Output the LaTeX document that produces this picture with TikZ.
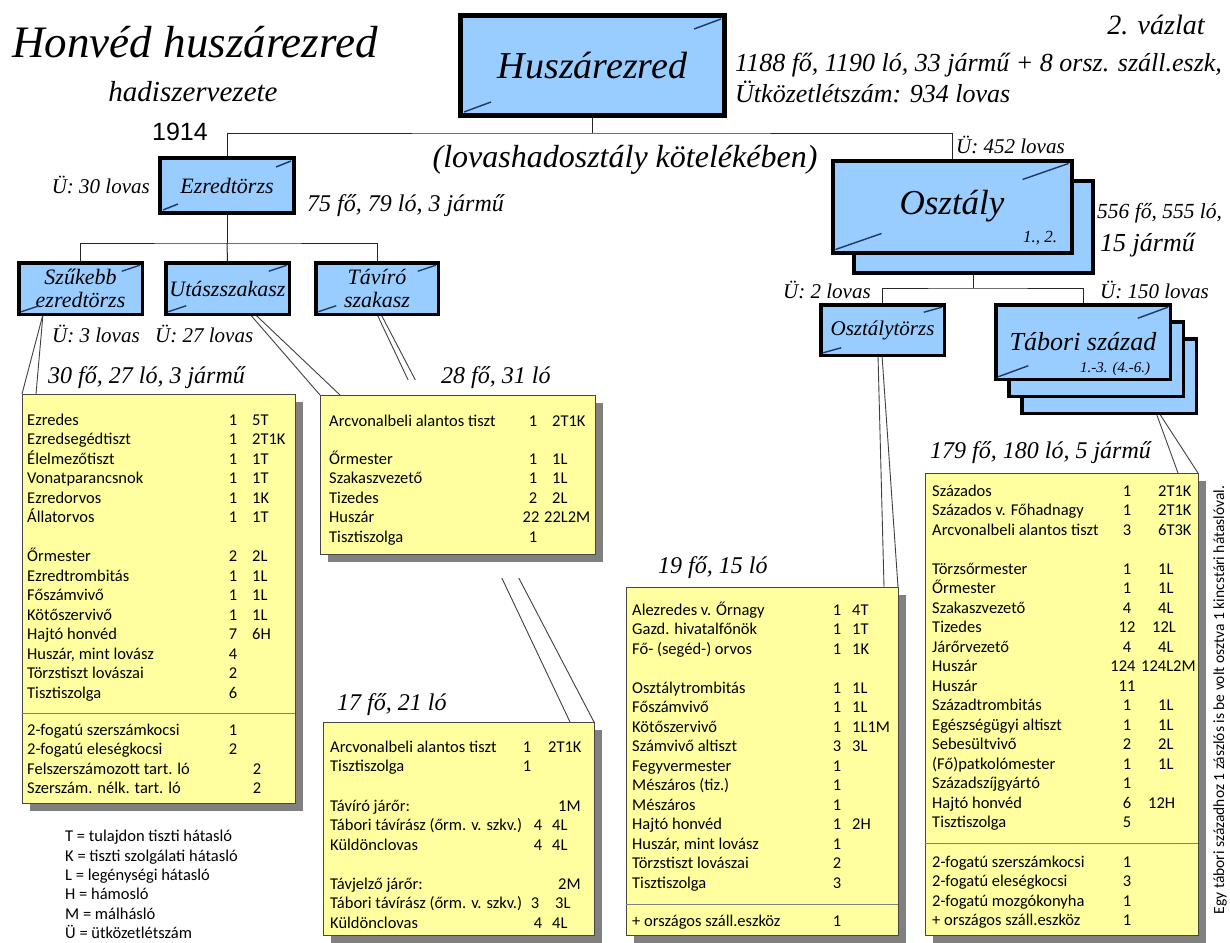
\documentclass[tikz,border=0pt]{standalone}
\usepackage{fontspec}
\setmainfont{Liberation Serif}
\newfontfamily\tabfont{Carlito}
\newfontfamily\arialfont{Liberation Sans}
\usetikzlibrary{shadows}
\definecolor{boxblue}{RGB}{153,204,255}
\definecolor{slashblue}{RGB}{31,56,100}
\definecolor{tabyellow}{RGB}{255,255,160}
\definecolor{tabline}{RGB}{70,70,70}
\definecolor{shadowgray}{RGB}{128,128,128}
\pgfdeclarelayer{back}
\pgfdeclarelayer{bg}
\pgfsetlayers{back,bg,main}
\newcommand\fs[2]{\fontsize{#1}{#2}\selectfont}
\newcounter{rw}
\newcommand\NX{0}\newcommand\MX{0}\newcommand\CX{0}
\newcommand\trowf[6]{%
 \stepcounter{rw}%
 \node[tcell,anchor=mid west] (r\arabic{rw}a) at (\NX,#1+2) {#2};%
 \if\relax\detokenize{#3}\relax\else\node[tcell,anchor=mid] (r\arabic{rw}b) at (#4,#1+2) {#3};\fi
 \if\relax\detokenize{#5}\relax\else\node[tcell,anchor=mid west] (r\arabic{rw}c) at (#6,#1+2) {#5};\fi}
\newcommand\trow[4]{\trowf{#1}{#2}{#3}{\MX}{#4}{\CX}}
\newcommand\cornerlines[4]{%
 \draw[cline] ([xshift=-#4pt,yshift=-#4pt]#1.north east) -- ++(-#2,#3);
 \draw[cline] ([xshift=#4pt,yshift=#4pt]#1.south west) -- ++(#2,-#3);}
\tikzset{
 bbox/.style={draw=black, fill=boxblue, outer sep=0pt, inner sep=0pt, align=center, font=\itshape\fs{22}{23}},
 tblbox/.style={draw=tabline, line width=1pt, fill=tabyellow, outer sep=0pt, inner sep=0pt,
   drop shadow={shadow xshift=8pt, shadow yshift=-8pt, fill=shadowgray, opacity=1}},
 tcell/.style={font=\tabfont\fs{16.5}{19.5}, inner sep=0pt},
 lbl/.style={font=\itshape\fs{24}{26}, inner sep=0pt},
 bigl/.style={font=\itshape\fs{26}{28}, inner sep=0pt},
 ulbl/.style={font=\itshape\fs{21}{23}, inner sep=0pt},
 bus/.style={draw=black!85, line width=1pt},
 callout/.style={draw=black!75, line width=0.9pt},
 cline/.style={draw=slashblue, line width=1.4pt},
 divline/.style={draw=shadowgray, line width=1pt},
 legend/.style={font=\tabfont\fs{16.5}{19.5}, inner sep=0pt, anchor=mid west}
}
\begin{document}
\begin{tikzpicture}[x=1pt,y=-1pt]
\begin{pgfonlayer}{back}
\fill[white] (0,0) rectangle (1230,942);
\end{pgfonlayer}
\useasboundingbox (0,0) rectangle (1230,942);

% ---------- titles ----------
\node[font=\itshape\fs{45}{50}, anchor=base, inner sep=0pt] (title) at (195,57) {Honvéd huszárezred};
\node[font=\itshape\fs{29}{32}, anchor=base, inner sep=0pt] (sub) at (193,101) {hadiszervezete};
\node[font=\arialfont\fs{25}{28}, anchor=base, inner sep=0pt] (year) at (180,140) {1914};
\node[font=\itshape\fs{28}{30}, inner sep=0pt] (vaz) at (1156,25) {2. vázlat};

% ---------- blue boxes ----------
\node[bbox, line width=5pt, minimum width=264pt, minimum height=100pt, font=\itshape\fs{38}{40}] (husz) at (592.5,65.5) {Huszárezred};
\cornerlines{husz}{27}{10}{3.5}
\node[bbox, line width=4pt, minimum width=134pt, minimum height=55pt] (ezt) at (227,185.5) {Ezredtörzs};
\cornerlines{ezt}{15}{6}{3}
\node[bbox, line width=3.5pt, minimum width=123.5pt, minimum height=51.5pt] (szuk) at (80.5,288.5) {Szűkebb\\ezredtörzs};
\cornerlines{szuk}{18}{6}{2.5}
\node[bbox, line width=3.5pt, minimum width=123.5pt, minimum height=51.5pt] (utasz) at (227.5,288.5) {Utászszakasz};
\cornerlines{utasz}{18}{6}{2.5}
\node[bbox, line width=3.5pt, minimum width=122.5pt, minimum height=51.5pt] (taviro) at (377,288.5) {Távíró\\szakasz};
\cornerlines{taviro}{18}{6}{2.5}

\node[bbox, line width=4pt, minimum width=239pt, minimum height=92pt] (osztb) at (973,226.5) {};
\node[bbox, line width=4pt, minimum width=239pt, minimum height=92pt, font=\itshape\fs{35}{36}] (osztf) at (952,206.5) {Osztály};
\cornerlines{osztf}{46}{16}{3}
\node[font=\itshape\fs{17}{18}, inner sep=0pt] (osztn) at (1040,238) {1., 2.};

\node[bbox, line width=3.5pt, minimum width=123.5pt, minimum height=50.5pt, font=\itshape\fs{21}{23}] (osztt) at (882.5,330) {Osztálytörzs};
\cornerlines{osztt}{18}{5}{2.5}

\node[bbox, line width=3.5pt, minimum width=174.5pt, minimum height=74.5pt] (tab3) at (1109,376) {};
\node[bbox, line width=3.5pt, minimum width=174.5pt, minimum height=74.5pt] (tab2) at (1096,359) {};
\node[bbox, line width=3.5pt, minimum width=174.5pt, minimum height=74.5pt, font=\itshape\fs{26}{28}] (tab1) at (1083,342) {Tábori század};
\cornerlines{tab1}{30}{11}{2.5}
\node[font=\itshape\fs{15}{16}, inner sep=0pt] (tabn) at (1115,369) {1.-3. (4.-6.)};

% ---------- labels ----------
\node[bigl, anchor=mid west] (lh1) at (735,69) {1188 fő, 1190 ló, 33 jármű + 8 orsz. száll.eszk,};
\node[bigl, anchor=mid west] (lh2) at (735,100) {Ütközetlétszám: 934 lovas};
\node[font=\itshape\fs{32}{34}, inner sep=0pt] (lov) at (625,160) {(lovashadosztály kötelékében)};
\node[ulbl, anchor=mid east] (u30) at (150,191) {Ü: 30 lovas};
\node[lbl, anchor=mid west] (l75) at (307,209) {75 fő, 79 ló, 3 jármű};
\node[ulbl, anchor=mid west] (u452) at (956,151) {Ü: 452 lovas};
\node[font=\itshape\fs{21.5}{24}, inner sep=0pt, anchor=mid west] (l556) at (1097,216) {556 fő, 555 ló,};
\node[bigl, anchor=mid west] (l15) at (1100,249) {15 jármű};
\node[ulbl, anchor=mid west] (u2) at (783,296) {Ü: 2 lovas};
\node[ulbl, anchor=mid west] (u150) at (1100,296) {Ü: 150 lovas};
\node[ulbl, anchor=mid west] (u3) at (52,340) {Ü: 3 lovas};
\node[ulbl, anchor=mid west] (u27) at (155,340) {Ü: 27 lovas};
\node[lbl, anchor=mid west] (l30) at (48,381) {30 fő, 27 ló, 3 jármű};

% ---------- tables ----------
\node[tblbox, minimum width=273pt, minimum height=409pt] (t1) at (158.5,598.5) {};
\fill[white] (400,380) rectangle (612,578);
\node[tblbox, minimum width=275pt, minimum height=159pt] (t2) at (457.5,474.5) {};
\node[tblbox, minimum width=271pt, minimum height=213pt] (t3) at (458.5,828.5) {};
\node[tblbox, minimum width=272pt, minimum height=348pt] (t4) at (762,761) {};
\node[tblbox, minimum width=273pt, minimum height=462pt] (t5) at (1061.5,704) {};

\node[lbl, anchor=mid west] (l28) at (441,381) {28 fő, 31 ló};
\node[lbl, anchor=mid west] (l179) at (930,456) {179 fő, 180 ló, 5 jármű};
\node[lbl, anchor=mid west] (l19) at (658,571) {19 fő, 15 ló};
\node[lbl, anchor=mid west] (l17) at (337,708) {17 fő, 21 ló};

% table 1
\renewcommand\NX{27}\renewcommand\MX{233}\renewcommand\CX{252}
\trow{421}{Ezredes}{1}{5T}
\trow{440.5}{Ezredsegédtiszt}{1}{2T1K}
\trow{460}{Élelmezőtiszt}{1}{1T}
\trow{479.5}{Vonatparancsnok}{1}{1T}
\trow{499}{Ezredorvos}{1}{1K}
\trow{518.5}{Állatorvos}{1}{1T}
\trow{557.5}{Őrmester}{2}{2L}
\trow{577}{Ezredtrombitás}{1}{1L}
\trow{596.5}{Főszámvivő}{1}{1L}
\trow{616}{Kötőszervivő}{1}{1L}
\trow{635.5}{Hajtó honvéd}{7}{6H}
\trow{655}{Huszár, mint lovász}{4}{}
\trow{674.5}{Törzstiszt lovászai}{2}{}
\trow{694}{Tisztiszolga}{6}{}
\draw[divline] (22,713) -- (295,713);
\trow{731}{2-fogatú szerszámkocsi}{1}{}
\trow{750.5}{2-fogatú eleségkocsi}{2}{}
\trowf{770}{Felszerszámozott tart. ló}{2}{257}{}{0}
\trowf{789.5}{Szerszám. nélk. tart. ló}{2}{257}{}{0}

% table 2
\renewcommand\NX{329}\renewcommand\MX{533}\renewcommand\CX{552}
\trow{422}{Arcvonalbeli alantos tiszt}{1}{2T1K}
\trow{460}{Őrmester}{1}{1L}
\trow{479.5}{Szakaszvezető}{1}{1L}
\trow{499}{Tizedes}{2}{2L}
\trowf{518.5}{Huszár}{22}{531}{22L2M}{544}
\trow{538}{Tisztiszolga}{1}{}

% table 3
\renewcommand\NX{330}
\trowf{748}{Arcvonalbeli alantos tiszt}{1}{527}{2T1K}{548}
\trowf{767.5}{Tisztiszolga}{1}{527}{}{0}
\trowf{807}{Távíró járőr:}{}{0}{1M}{558}
\trowf{826.5}{Tábori távírász (őrm. v. szkv.)}{4}{538}{4L}{552}
\trowf{846}{Küldönclovas}{4}{538}{4L}{552}
\trowf{885}{Távjelző járőr:}{}{0}{2M}{558}
\trowf{904.5}{Tábori távírász (őrm. v. szkv.)}{3}{535}{3L}{555}
\trowf{924}{Küldönclovas}{4}{538}{4L}{552}

% table 4
\renewcommand\NX{632}\renewcommand\MX{837}\renewcommand\CX{852}
\trow{611}{Alezredes v. Őrnagy}{1}{4T}
\trow{630.5}{Gazd. hivatalfőnök}{1}{1T}
\trow{650}{Fő- (segéd-) orvos}{1}{1K}
\trow{689}{Osztálytrombitás}{1}{1L}
\trow{708.5}{Főszámvivő}{1}{1L}
\trow{728}{Kötőszervivő}{1}{1L1M}
\trow{747.5}{Számvivő altiszt}{3}{3L}
\trow{767}{Fegyvermester}{1}{}
\trow{786.5}{Mészáros (tiz.)}{1}{}
\trow{806}{Mészáros}{1}{}
\trow{825.5}{Hajtó honvéd}{1}{2H}
\trow{845}{Huszár, mint lovász}{1}{}
\trow{864.5}{Törzstiszt lovászai}{2}{}
\trow{884}{Tisztiszolga}{3}{}
\draw[divline] (626,904) -- (898,904);
\trow{922}{+ országos száll.eszköz}{1}{}

% table 5
\renewcommand\NX{932}\renewcommand\MX{1127}\renewcommand\CX{1158}
\trow{492}{Százados}{1}{2T1K}
\trow{511.5}{Százados v. Főhadnagy}{1}{2T1K}
\trow{531}{Arcvonalbeli alantos tiszt}{3}{6T3K}
\trow{570}{Törzsőrmester}{1}{1L}
\trow{589.5}{Őrmester}{1}{1L}
\trow{609}{Szakaszvezető}{4}{4L}
\trowf{628.5}{Tizedes}{12}{1127}{12L}{1152}
\trow{648}{Járőrvezető}{4}{4L}
\trowf{667.5}{Huszár}{124}{1123}{124L2M}{1141}
\trow{687}{Huszár}{11}{}
\trow{706.5}{Századtrombitás}{1}{1L}
\trow{726}{Egészségügyi altiszt}{1}{1L}
\trow{745.5}{Sebesültvivő}{2}{2L}
\trow{765}{(Fő)patkolómester}{1}{1L}
\trow{784.5}{Századszíjgyártó}{1}{}
\trowf{804}{Hajtó honvéd}{6}{1127}{12H}{1148}
\trow{823.5}{Tisztiszolga}{5}{}
\draw[divline] (925,843) -- (1198,843);
\trow{863}{2-fogatú szerszámkocsi}{1}{}
\trow{882.5}{2-fogatú eleségkocsi}{3}{}
\trow{902}{2-fogatú mozgókonyha}{1}{}
\trow{921.5}{+ országos száll.eszköz}{1}{}

% legend
\node[legend] (lgT) at (65,839) {T = tulajdon tiszti hátasló};
\node[legend] (lgK) at (65,859) {K = tiszti szolgálati hátasló};
\node[legend] (lgL) at (65,878) {L = legénységi hátasló};
\node[legend] (lgH) at (65,897) {H = hámosló};
\node[legend] (lgM) at (65,917) {M = málhásló};
\node[legend] (lgU) at (65,936) {Ü = ütközetlétszám};

% vertical note
\node[font=\tabfont\fs{15.5}{17}, inner sep=0pt, rotate=90] (note) at (1220,700) {Egy tábori századhoz 1 zászlós is be volt osztva 1 kincstári hátaslóval.};

% ---------- connectors ----------
\begin{pgfonlayer}{bg}
\coordinate (j1) at (592.5,133);
\coordinate (j2) at (227,243);
\coordinate (j3) at (973,288);
\draw[bus] (husz.south) -- (j1);
\draw[bus] (ezt.north) |- (j1) -| (osztf.north);
\draw[bus] (ezt.south) -- (j2);
\draw[bus] (szuk.north) |- (j2) -| (taviro.north);
\draw[bus] (j2) -- (utasz.north);
\draw[bus] (osztb.south) -- (j3);
\draw[bus] (osztt.north) |- (j3) -| (tab1.north);
% callout wedges
\draw[callout] ([xshift=-37.5pt]szuk.south) -- (t1.north west);
\draw[callout] ([xshift=-37.5pt]szuk.south) -- ([xshift=14pt]t1.north west);
\draw[callout] ([xshift=22.5pt]utasz.south) -- (t2.north west);
\draw[callout] ([xshift=27.5pt]utasz.south) -- ([xshift=20pt]t2.north west);
\draw[callout] (taviro.south) -- ([xshift=-24pt]t3.north east);
\draw[callout] ([xshift=4pt]taviro.south) -- (t3.north east);
\draw[callout] ([xshift=-4.5pt]osztt.south) -- ([xshift=-14pt]t4.north east);
\draw[callout] ([xshift=-0.5pt]osztt.south) -- (t4.north east);
\draw[callout] ([xshift=-40pt]tab3.south east) -- ([xshift=-20pt]t5.north east);
\draw[callout] ([xshift=-37pt]tab3.south east) -- (t5.north east);
\end{pgfonlayer}
\end{tikzpicture}
\end{document}
